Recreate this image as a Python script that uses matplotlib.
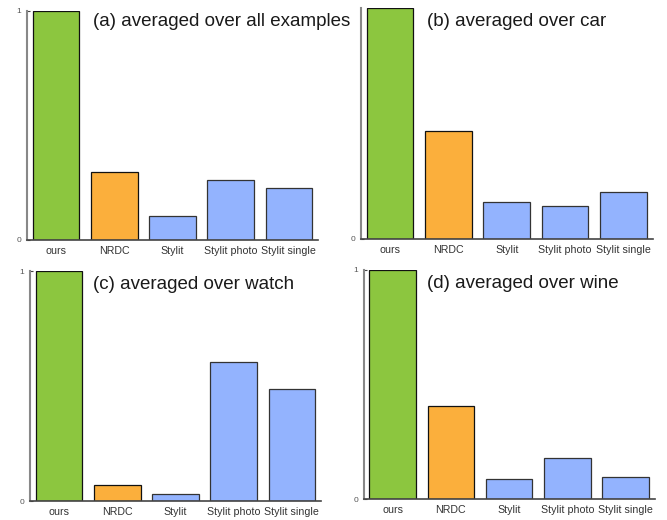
import matplotlib
matplotlib.use("Agg")
import matplotlib.pyplot as plt
import numpy as np

plt.rcParams['font.family'] = ['Liberation Sans', 'DejaVu Sans']

methods = ["ours", "NRDC", "Stylit", "Stylit photo", "Stylit single"]
scores_all = [1.0, 0.298, 0.103, 0.263, 0.227]
scores_car = [1.0, 0.47, 0.161, 0.144, 0.202]
scores_watch = [1.0, 0.068, 0.029, 0.604, 0.486]
scores_wine = [1.0, 0.406, 0.087, 0.178, 0.097]
titles = ["(a) averaged over all examples", "(b) averaged over car",
          "(c) averaged over watch", "(d) averaged over wine"]

colors = ["#8cc63f", "#fbaf3c", "#93b3fe", "#93b3fe", "#93b3fe"]
edges = ["#111111", "#111111", "#333333", "#333333", "#333333"]

W, H = 667, 520
fig = plt.figure(figsize=(W / 100, H / 100), dpi=100)

# panel boxes in pixels: left, right, y of value 0, y of value 1, title x, title baseline
boxes = [
    (27, 318, 240, 10.5, 93, 26.5),
    (361, 652.5, 239, 8.3, 427, 26.5),
    (30, 321, 501, 271.3, 93, 289),
    (363.6, 654.7, 499.3, 269.7, 427, 288.5),
]
data = [scores_all, scores_car, scores_watch, scores_wine]

for i, (vals, box, title) in enumerate(zip(data, boxes, titles)):
    l, r, y0, y1, tx, ty = box
    ax = fig.add_axes([l / W, 1 - y0 / H, (r - l) / W, (y0 - y1) / H])
    x = np.arange(len(methods))
    ax.bar(x, vals, width=0.8, color=colors, edgecolor=edges, linewidth=0.9)
    ax.set_xlim(-0.5, 4.5)
    ax.set_ylim(0, 1)
    for s in ("top", "right"):
        ax.spines[s].set_visible(False)
    ax.spines["left"].set_color("#888888")
    ax.spines["left"].set_linewidth(1.5)
    ax.spines["bottom"].set_color("#444444")
    ax.spines["bottom"].set_linewidth(1.2)
    ax.set_xticks(x)
    ax.set_xticklabels(methods, fontsize=7.7, color="#333333")
    ax.tick_params(axis="x", length=0, pad=4)
    if i == 1:
        ax.set_yticks([0])
        ax.set_yticklabels(["0"])
    else:
        ax.set_yticks([0, 1])
        ax.set_yticklabels(["0", "1"])
    ax.tick_params(axis="y", direction="in", length=2, width=0.8,
                   color="#444444", labelsize=6, labelcolor="#555555", pad=4)
    ax.patch.set_alpha(0)
    fig.text(tx / W, 1 - ty / H, title, fontsize=13.5, color="#1a1a1a",
             ha="left", va="baseline")

fig.savefig("out.png", dpi=100)
